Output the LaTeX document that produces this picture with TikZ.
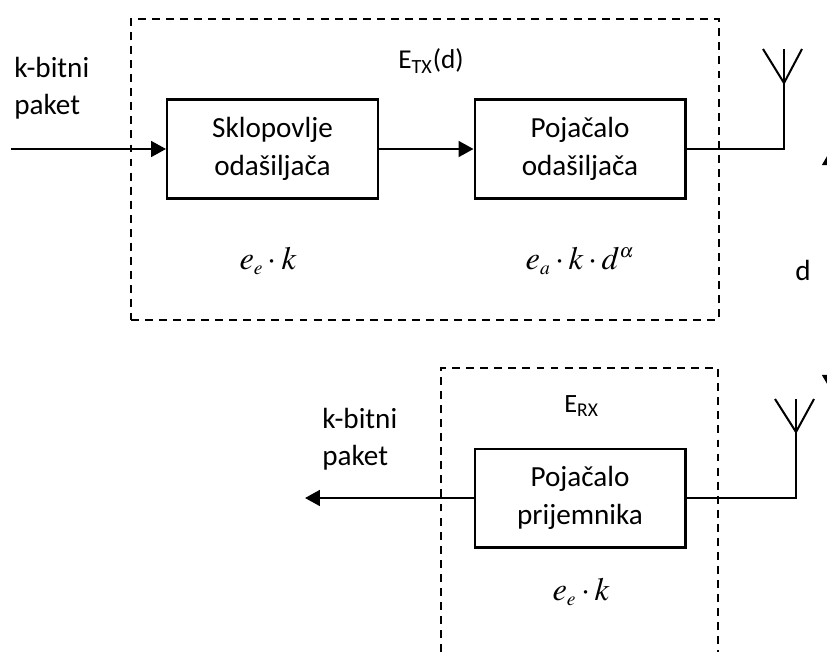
\documentclass[tikz,border=0pt]{standalone}
\usepackage{fontspec}
\usepackage{mathptmx}
\setmainfont{Carlito}
\usetikzlibrary{arrows.meta}
\newcommand{\nizak}[1]{_{\rule{0pt}{8pt}\scriptscriptstyle #1}}
\tikzset{
  blok/.style={draw,line width=1.15pt,minimum width=4.22cm,minimum height=1.98cm,align=center,font=\fontsize{16.6}{21.5}\selectfont},
  okvir/.style={line width=1pt,dash pattern=on 4.5pt off 3.5pt},
  tekst/.style={align=left,anchor=west,inner sep=0pt,font=\fontsize{16.6}{21}\selectfont},
  formula/.style={font=\fontsize{18.5}{22}\selectfont},
  veza/.style={line width=1.15pt},
  strelica/.style={line width=1.3pt,-{Triangle[length=8.5pt,width=9pt]}},
  razmjer/.style={line width=1.1pt,{Triangle[length=8pt,width=9pt]}-{Triangle[length=8pt,width=9pt]}}
}
\begin{document}
\begin{tikzpicture}[x=0.02cm,y=-0.02cm]
\useasboundingbox (0,0) rectangle (827,652);
\node [okvir,draw,minimum width=11.76cm,minimum height=6.02cm,anchor=north west] (predajnik) at (130,18) {};
\coordinate (pr1) at (441,652); \coordinate (pr2) at (441,368); \coordinate (pr3) at (718,368); \coordinate (pr4) at (718,652);
\draw [okvir] (pr1) -- (pr2) -- (pr3) -- (pr4);
\node [blok] (sklopovlje) at (272.5,149) {Sklopovlje\\odašiljača};
\node [blok] (pojacalo) at (580,149) {Pojačalo\\odašiljača};
\node [blok] (pojprij) at (580,498) {Pojačalo\\prijemnika};
\coordinate (ulaz) at (11,149);
\coordinate (izlaz) at (305,498);
\coordinate (ant1) at (784,149); \coordinate (ant1v) at (784,83); \coordinate (ant1t) at (784,49);
\coordinate (ant1l) at (763,49); \coordinate (ant1r) at (802,49);
\coordinate (ant2) at (796,498); \coordinate (ant2v) at (796,432); \coordinate (ant2t) at (796,399);
\coordinate (ant2l) at (775,399); \coordinate (ant2r) at (814,399);
\coordinate (d1) at (830,151); \coordinate (d2) at (830,389);
\node [tekst] (ulazt) at (14,88) {k-bitni\\paket};
\node [tekst] (izlazt) at (322,439) {k-bitni\\paket};
\node [tekst,font=\fontsize{15.5}{20}\selectfont] (etx) at (398,61) {E\textsubscript{TX}(d)};
\node [tekst,font=\fontsize{15}{20}\selectfont] (erx) at (564,406) {E\textsubscript{RX}};
\node [tekst] (razmak) at (795,270) {d};
\node [formula] (fe) at (268,261) {$e\nizak{e}\cdot k$};
\node [formula] (fa) at (580,261) {$e\nizak{a}\cdot k\cdot d^{\scriptscriptstyle\alpha}$};
\node [formula] (fr) at (581,592) {$e\nizak{e}\cdot k$};
\draw [strelica] (ulaz) -- (sklopovlje);
\draw [strelica] (sklopovlje) -- (pojacalo);
\draw [strelica] (pojprij) -- (izlaz);
\draw [veza] (pojacalo) -- (ant1) -- (ant1v);
\draw [veza] (ant1v) -- (ant1t); \draw [veza] (ant1l) -- (ant1v) -- (ant1r);
\draw [veza] (pojprij) -- (ant2) -- (ant2v);
\draw [veza] (ant2v) -- (ant2t); \draw [veza] (ant2l) -- (ant2v) -- (ant2r);
\begin{scope}
\clip (0,0) rectangle (827,652);
\draw [razmjer] (d1) -- (d2);
\end{scope}
\end{tikzpicture}
\end{document}
